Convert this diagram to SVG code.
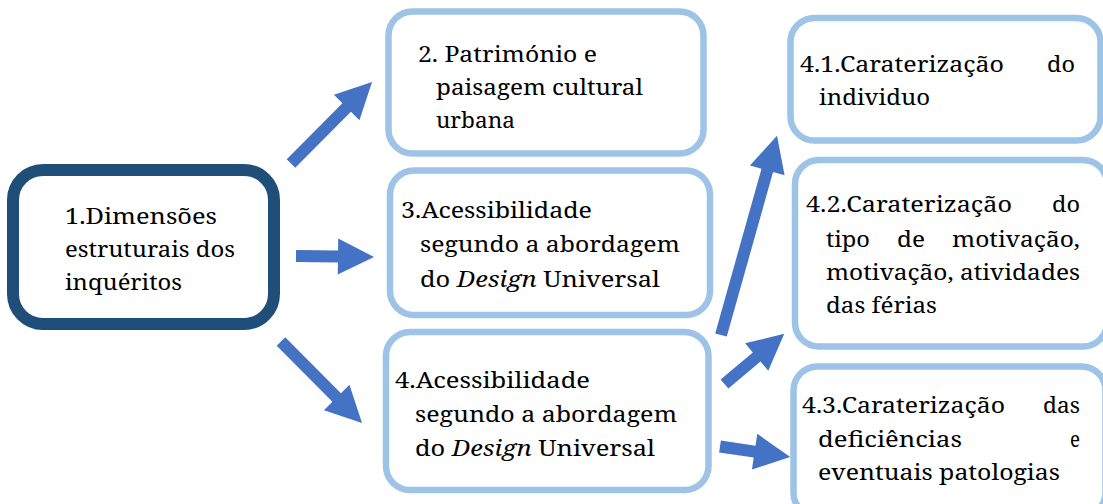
<svg xmlns="http://www.w3.org/2000/svg" width="1103" height="504" viewBox="0 0 1103 504">
<style>
.bg{fill:#ffffff}
.main{fill:#ffffff;stroke:#1F4E79;stroke-width:12}
.sub{fill:#ffffff;stroke:#9DC3E6;stroke-width:6.5}
.arrow{fill:#4472C4}
.t{font-family:'Noto Serif','Liberation Serif','DejaVu Serif','Times New Roman',serif;font-size:22px;fill:#000000}
.it{font-style:italic}
</style>
<rect class="bg" x="0" y="0" width="1103" height="504"/>
<g id="connectors">
<polygon class="arrow" points="0,-6 79,-6 79,-18 115,0 79,18 79,6 0,6" transform="translate(291,163.5) rotate(-45.2)"/>
<polygon class="arrow" points="0,-6 42,-6 42,-18 78,0 42,18 42,6 0,6" transform="translate(296,256) rotate(0.7)"/>
<polygon class="arrow" points="0,-6 79,-6 79,-18 115,0 79,18 79,6 0,6" transform="translate(281,341.5) rotate(45.2)"/>
<polygon class="arrow" points="0,-6 171,-6 171,-18 207,0 171,18 171,6 0,6" transform="translate(721,335) rotate(-74.3)"/>
<polygon class="arrow" points="0,-6 42,-6 42,-18 78,0 42,18 42,6 0,6" transform="translate(724.5,384) rotate(-40)"/>
<polygon class="arrow" points="0,-6 35,-6 35,-18 71,0 35,18 35,6 0,6" transform="translate(720,446.5) rotate(8.5)"/>
</g>
<g id="node1" class="t">
<rect class="main" x="13" y="170" width="261" height="154" rx="30"/>
<text x="65" y="224" textLength="152" lengthAdjust="spacingAndGlyphs">1.Dimensões</text>
<text x="65" y="257" textLength="170" lengthAdjust="spacingAndGlyphs">estruturais dos</text>
<text x="65" y="290" textLength="117" lengthAdjust="spacingAndGlyphs">inquéritos</text>
</g>
<g id="node2" class="t">
<rect class="sub" x="388.5" y="11.5" width="315" height="142" rx="24"/>
<text x="418" y="62" textLength="179" lengthAdjust="spacingAndGlyphs">2. Património e</text>
<text x="436" y="95" textLength="207" lengthAdjust="spacingAndGlyphs">paisagem cultural</text>
<text x="436" y="128" textLength="79" lengthAdjust="spacingAndGlyphs">urbana</text>
</g>
<g id="node3" class="t">
<rect class="sub" x="390" y="170.5" width="320" height="144.5" rx="24"/>
<text x="401" y="218" textLength="191" lengthAdjust="spacingAndGlyphs">3.Acessibilidade</text>
<text x="420" y="252" textLength="260" lengthAdjust="spacingAndGlyphs">segundo a abordagem</text>
<text x="420" y="287" textLength="240" lengthAdjust="spacingAndGlyphs">do <tspan class="it">Design</tspan> Universal</text>
</g>
<g id="node4" class="t">
<rect class="sub" x="386" y="332" width="322.5" height="158" rx="24"/>
<text x="395" y="388" textLength="195" lengthAdjust="spacingAndGlyphs">4.Acessibilidade</text>
<text x="415" y="422" textLength="262" lengthAdjust="spacingAndGlyphs">segundo a abordagem</text>
<text x="415" y="456" textLength="240" lengthAdjust="spacingAndGlyphs">do <tspan class="it">Design</tspan> Universal</text>
</g>
<g id="node4-1" class="t">
<rect class="sub" x="790.5" y="18" width="310" height="122.5" rx="24"/>
<text x="800" y="72" textLength="204" lengthAdjust="spacingAndGlyphs">4.1.Caraterização</text>
<text x="1047" y="72" textLength="28" lengthAdjust="spacingAndGlyphs">do</text>
<text x="819" y="105" textLength="111" lengthAdjust="spacingAndGlyphs">individuo</text>
</g>
<g id="node4-2" class="t">
<rect class="sub" x="795" y="160" width="312" height="186.5" rx="24"/>
<text x="806" y="212" textLength="206" lengthAdjust="spacingAndGlyphs">4.2.Caraterização</text>
<text x="1052" y="212" textLength="28" lengthAdjust="spacingAndGlyphs">do</text>
<text x="826" y="247" textLength="44" lengthAdjust="spacingAndGlyphs">tipo</text>
<text x="897" y="247" textLength="28" lengthAdjust="spacingAndGlyphs">de</text>
<text x="952" y="247" textLength="128" lengthAdjust="spacingAndGlyphs">motivação,</text>
<text x="826" y="280" textLength="254" lengthAdjust="spacingAndGlyphs">motivação, atividades</text>
<text x="826" y="313" textLength="111" lengthAdjust="spacingAndGlyphs">das férias</text>
</g>
<g id="node4-3" class="t">
<rect class="sub" x="793.5" y="366.5" width="312" height="150" rx="24"/>
<text x="802" y="413" textLength="203" lengthAdjust="spacingAndGlyphs">4.3.Caraterização</text>
<text x="1043" y="413" textLength="37" lengthAdjust="spacingAndGlyphs">das</text>
<text x="818" y="447" textLength="144" lengthAdjust="spacingAndGlyphs">deficiências</text>
<text x="1070" y="447" textLength="10" lengthAdjust="spacingAndGlyphs">e</text>
<text x="818" y="480" textLength="242" lengthAdjust="spacingAndGlyphs">eventuais patologias</text>
</g>
</svg>
